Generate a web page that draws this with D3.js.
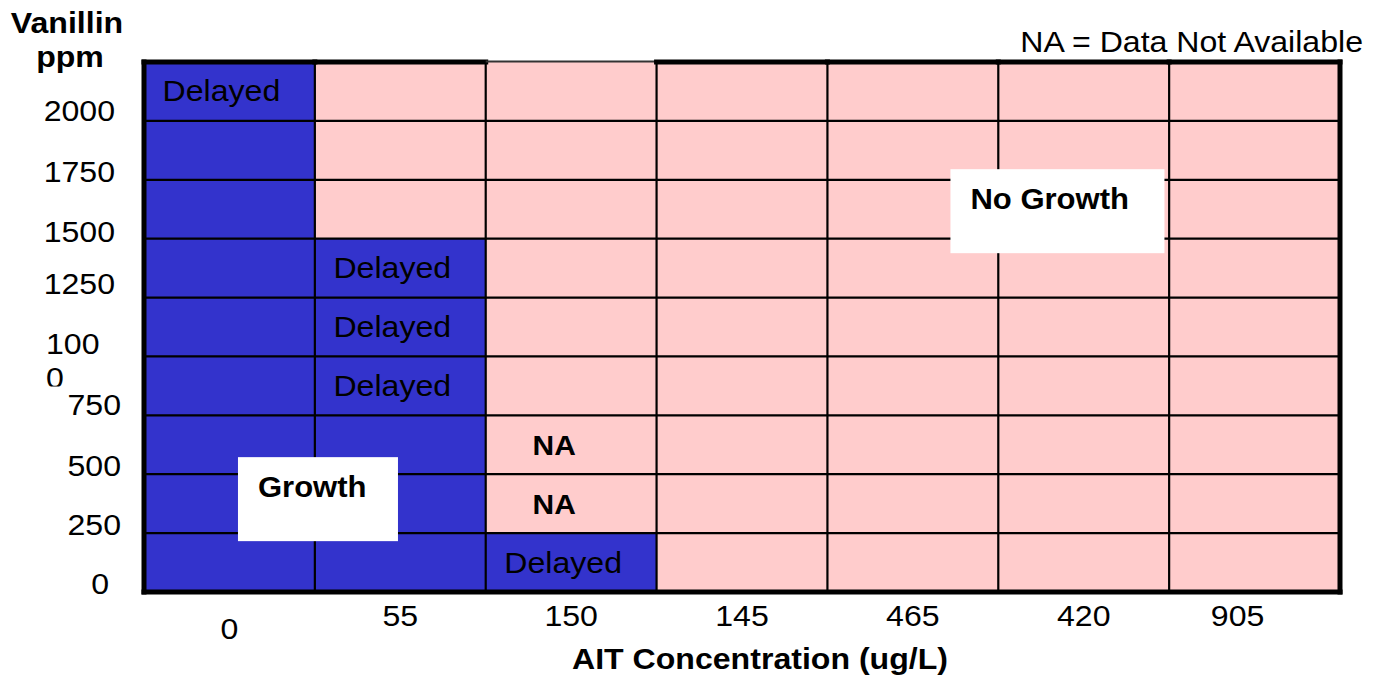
<!DOCTYPE html>
<html><head><meta charset="utf-8">
<script src="https://cdn.jsdelivr.net/npm/d3@7"></script>
<style>
body{margin:0;background:#fff;}
text{font-family:"Liberation Sans",Arial,Helvetica,sans-serif;fill:#000;}
</style>
</head><body>
<svg id="chart" width="1380" height="680"></svg>
<script>
// ---- data ----
const concentrations = ["0","55","150","145","465","420","905"];          // x categories (AIT ug/L)
const vanillinLevels = ["2000","1750","1500","1250","1000","750","500","250","0"]; // y categories, top -> bottom
// growth outcome per AIT column, listed from the 2000 row down to the 0 row
const growthAt0   = ["Delayed","Growth","Growth","Growth","Growth","Growth","Growth","Growth","Growth"];
const growthAt55  = ["No Growth","No Growth","No Growth","Delayed","Delayed","Delayed","Growth","Growth","Growth"];
const growthAt150 = ["No Growth","No Growth","No Growth","No Growth","No Growth","No Growth","NA","NA","Delayed"];
const growthAt145 = ["No Growth","No Growth","No Growth","No Growth","No Growth","No Growth","No Growth","No Growth","No Growth"];
const growthAt465 = ["No Growth","No Growth","No Growth","No Growth","No Growth","No Growth","No Growth","No Growth","No Growth"];
const growthAt420 = ["No Growth","No Growth","No Growth","No Growth","No Growth","No Growth","No Growth","No Growth","No Growth"];
const growthAt905 = ["No Growth","No Growth","No Growth","No Growth","No Growth","No Growth","No Growth","No Growth","No Growth"];
const growthColumns = [growthAt0, growthAt55, growthAt150, growthAt145, growthAt465, growthAt420, growthAt905];
const xTitle = "AIT Concentration (ug/L)";
const yTitle = ["Vanillin","ppm"];
const note = "NA = Data Not Available";

// ---- layout ----
const plot = {left:144, right:1340, top:62, bottom:592};
const BLUE = "#3333CC", PINK = "#FFCCCC";
const FS = 30;
const SX = 1.07; // horizontal text stretch of the original

const svg = d3.select("#chart");
const x = d3.scaleBand().domain(concentrations).range([plot.left, plot.right]).padding(0);
const y = d3.scaleBand().domain(vanillinLevels).range([plot.top, plot.bottom]).padding(0);
const color = d3.scaleOrdinal().domain(["Growth","Delayed","No Growth","NA"]).range([BLUE, BLUE, PINK, PINK]);

function stretch(sel) {
  sel.each(function() {
    const t = d3.select(this);
    const tx = +t.attr("x") || 0, ty = +t.attr("y") || 0;
    t.attr("x", 0).attr("y", 0).attr("transform", `translate(${tx},${ty}) scale(${SX},1)`);
  });
  return sel;
}

const cells = [];
concentrations.forEach((c, i) => {
  growthColumns[i].forEach((status, j) => cells.push({c, v: vanillinLevels[j], status}));
});

// cells
svg.append("g").selectAll("rect").data(cells).join("rect")
  .attr("x", d => x(d.c)).attr("y", d => y(d.v))
  .attr("width", x.bandwidth()).attr("height", y.bandwidth())
  .attr("fill", d => color(d.status));

// grid lines
const grid = svg.append("g").attr("stroke", "#000").attr("stroke-width", 2.2);
concentrations.slice(1).forEach(c => grid.append("line")
  .attr("x1", x(c)).attr("x2", x(c)).attr("y1", plot.top).attr("y2", plot.bottom));
vanillinLevels.slice(1).forEach(v => grid.append("line")
  .attr("x1", plot.left).attr("x2", plot.right).attr("y1", y(v)).attr("y2", y(v)));

// outer frame (top edge thin over the 150 column)
const frame = svg.append("g").attr("stroke", "#000").attr("stroke-linecap", "square");
frame.append("line").attr("x1", plot.left).attr("x2", plot.left).attr("y1", plot.top).attr("y2", plot.bottom).attr("stroke-width", 5);
frame.append("line").attr("x1", plot.right).attr("x2", plot.right).attr("y1", plot.top).attr("y2", plot.bottom).attr("stroke-width", 5);
frame.append("line").attr("x1", plot.left).attr("x2", plot.right).attr("y1", plot.bottom).attr("y2", plot.bottom).attr("stroke-width", 5);
concentrations.forEach(c => {
  const thin = c === "150";
  frame.append("line")
    .attr("x1", x(c)).attr("x2", x(c) + x.bandwidth())
    .attr("y1", thin ? plot.top - 0.5 : plot.top).attr("y2", thin ? plot.top - 0.5 : plot.top)
    .attr("stroke-width", thin ? 1.8 : 5)
    .attr("stroke", thin ? "#333" : "#000")
    .attr("stroke-linecap", thin ? "butt" : "square");
});

// in-cell labels
const labelled = cells.filter(d => d.status === "Delayed" && !(d.c === "0" && d.v !== "2000") && !(d.c === "55" && ["500","250","0"].includes(d.v)) || d.status === "NA");
stretch(svg.append("g").selectAll("text").data(labelled).join("text")
  .attr("x", d => x(d.c) + x.bandwidth() / 2 + (d.status === "NA" ? -17 : -8))
  .attr("y", d => y(d.v) + y.bandwidth() / 2 + 10)
  .attr("text-anchor", "middle")
  .attr("font-size", d => d.status === "NA" ? 28 : FS)
  .attr("font-weight", d => d.status === "NA" ? "bold" : "normal")
  .text(d => d.status));

// y tick labels (as laid out in the original: right-aligned, near bottom of each row)
const yTickDx = [115, 115, 115, 115, 46, 121, 121, 121, 109];
const yTickDy = [-1, 1, 2, -5, -3, -1, 1, 1, 1];
const yt = svg.append("g").attr("font-size", FS);
vanillinLevels.forEach((v, i) => {
  const cy = y(v) + y.bandwidth() - 10 + yTickDy[i];
  if (v === "1000") {
    // label wrapped in a narrow box in the original: "100" / "0" (second line clipped)
    stretch(yt.append("text").attr("x", yTickDx[i]).attr("y", cy + 11).attr("text-anchor", "start").text(v.slice(0, 3)));
    svg.append("clipPath").attr("id", "clip1000").append("rect").attr("x", 0).attr("y", 0).attr("width", 140).attr("height", cy + 43);
    yt.append("g").attr("clip-path", "url(#clip1000)")
      .call(g => stretch(g.append("text").attr("x", yTickDx[i]).attr("y", cy + 45).attr("text-anchor", "start").text(v.slice(3))));
  } else {
    stretch(yt.append("text").attr("x", yTickDx[i]).attr("y", cy + 11).attr("text-anchor", "end").text(v));
  }
});

// x tick labels
stretch(svg.append("g").attr("font-size", FS).selectAll("text").data(concentrations).join("text")
  .attr("x", d => x(d) + x.bandwidth() / 2 + (d === "905" ? -17 : 0))
  .attr("y", d => plot.bottom + (d === "0" ? 47 : 34))
  .attr("text-anchor", "middle").text(d => d));

// axis titles
stretch(svg.append("text").attr("x", 760).attr("y", 669).attr("text-anchor", "middle")
  .attr("font-size", FS).attr("font-weight", "bold").text(xTitle));
stretch(svg.append("text").attr("x", 67).attr("y", 33).attr("text-anchor", "middle")
  .attr("font-size", FS).attr("font-weight", "bold").text(yTitle[0]));
stretch(svg.append("text").attr("x", 70).attr("y", 67).attr("text-anchor", "middle")
  .attr("font-size", FS).attr("font-weight", "bold").text(yTitle[1]));

// note
stretch(svg.append("text").attr("x", 1363).attr("y", 52).attr("text-anchor", "end")
  .attr("font-size", FS).text(note));

// region annotations in white boxes
const annotations = [
  {text: "Growth",    c: "0",   v: "500",  fx: 0.55, fy: 0.71, w: 160, h: 84},
  {text: "No Growth", c: "465", v: "1750", fx: 0.72, fy: 0.82, w: 214, h: 84}
];
const ann = svg.append("g").selectAll("g").data(annotations).join("g")
  .attr("transform", d => `translate(${x(d.c) + d.fx * x.bandwidth()},${y(d.v) + d.fy * y.bandwidth()})`);
ann.append("rect").attr("width", d => d.w).attr("height", d => d.h).attr("fill", "#fff");
stretch(ann.append("text").attr("x", 20).attr("y", 40).attr("font-size", 29).attr("font-weight", "bold").text(d => d.text));
</script>
</body></html>
